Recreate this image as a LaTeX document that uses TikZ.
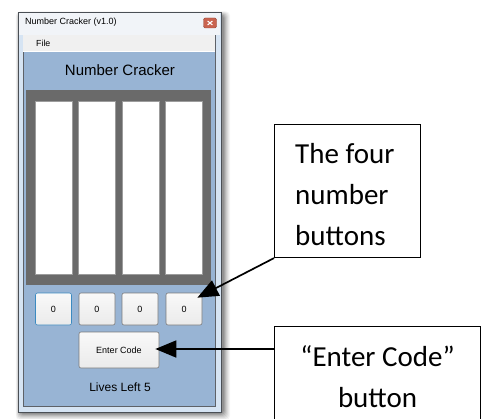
\documentclass[tikz,border=0pt]{standalone}
\usepackage{fontspec}
\setmainfont{Liberation Sans}
\newfontfamily\calloutfont{Carlito}
\usetikzlibrary{arrows.meta,calc}

\definecolor{clientblue}{HTML}{98B4D4}
\definecolor{framedark}{HTML}{4A4F55}
\definecolor{framefill}{HTML}{D6E4F3}
\definecolor{titlefill}{HTML}{F1F4F8}
\definecolor{innerdark}{HTML}{5E6268}
\definecolor{menugray}{HTML}{F0F0F0}
\definecolor{panelgray}{HTML}{6A6A6A}
\definecolor{slotedge}{HTML}{9C9C9C}
\definecolor{btnedge}{HTML}{7A7A7A}
\definecolor{focusedge}{HTML}{3C8AC0}
\definecolor{closered}{HTML}{C9634F}

\tikzset{
  appfont/.style={font=\fontsize{#1}{#1}\selectfont},
  slot/.style={draw=slotedge, line width=0.8pt, fill=white, minimum width=37pt,
    minimum height=173pt, inner sep=0pt},
  winbtn/.style={draw=btnedge, line width=0.6pt, rounded corners=2pt,
    top color=white!95!gray, bottom color=white!84!gray, inner sep=0pt,
    font=\fontsize{9}{9}\selectfont},
  numbtn/.style={winbtn, minimum width=36pt, minimum height=32pt},
  callout/.style={draw=black, line width=1.1pt, fill=white, inner sep=0pt},
  callouttext/.style={inner sep=0pt, font=\calloutfont\fontsize{29}{41}\selectfont},
  pointer/.style={draw=black, line width=1.7pt,
    -{Triangle[length=21pt,width=17pt]}},
}

\begin{document}
\begin{tikzpicture}[x=1pt,y=-1pt]
\useasboundingbox (0,0) rectangle (486,419);
\clip (0,0) rectangle (486,419);

% soft drop shadow behind the window
\foreach \i/\o in {7/0.04,6/0.05,5/0.06,4/0.07,3/0.09,2/0.11,1/0.13}
  \fill[black, opacity=\o, rounded corners=4pt]
    (18-\i*0.6+2, 12-\i*0.5+3) rectangle (221+\i+2, 412+\i+1);

% window frame and title bar
\draw[draw=framedark, fill=framefill, line width=0.8pt] (18,12) rectangle (221,412);
\fill[titlefill] (18.6,12.6) rectangle (220.4,35);
\node[anchor=west, inner sep=0pt, appfont=9] (title) at (25,22) {Number Cracker (v1.0)};
\node[draw=closered!75!black, fill=closered, rounded corners=1.5pt,
  minimum width=13pt, minimum height=10pt, inner sep=0pt] (close) at (210,23) {};
\draw[white, line width=1.1pt] ($(close.center)+(-2.4,-2)$) -- ($(close.center)+(2.4,2)$)
  ($(close.center)+(-2.4,2)$) -- ($(close.center)+(2.4,-2)$);

% client area and menu bar
\draw[draw=innerdark, fill=clientblue, line width=0.8pt] (23,35) rectangle (215,406);
\fill[menugray] (23.4,35.4) rectangle (214.6,51);
\draw[white, line width=0.8pt] (23.4,51) -- (214.6,51);
\node[anchor=west, inner sep=0pt, appfont=8.8] (file) at (36,43) {File};

% heading
\node[inner sep=0pt, appfont=15] (heading) at (120,70) {Number Cracker};

% digit display panel
\node[fill=panelgray, anchor=north west, minimum width=185pt, minimum height=195pt,
  inner sep=0pt] (panel) at (26,90) {};
\node[slot] (s1) at (53.5,187.5) {};
\node[slot] (s2) at (97,187.5) {};
\node[slot] (s3) at (140.5,187.5) {};
\node[slot] (s4) at (184,187.5) {};

% number buttons
\node[numbtn, draw=focusedge] (b1) at (53.5,309) {0};
\node[numbtn] (b2) at (97,309) {0};
\node[numbtn] (b3) at (140,309) {0};
\node[numbtn] (b4) at (184,309) {0};

% enter button and lives counter
\node[winbtn, minimum width=80pt, minimum height=36pt] (enter) at (119,350) {Enter Code};
\node[inner sep=0pt, appfont=12] (lives) at (120,387) {Lives Left 5};

% callout boxes
\node[callout, anchor=north west, minimum width=146pt, minimum height=133pt] (c1) at (274,124) {};
\node[callouttext, anchor=north west, align=left] (t1) at (295,143) {The four\\number\\buttons};

\node[callout, anchor=north west, minimum width=206pt, minimum height=110pt] (c2) at (274,326) {};
\node[callouttext, anchor=north, align=center] (t2) at (c2.north |- 0,345) {“Enter Code”\\button};

% pointers
\coordinate (tip4) at ($(b4.north east)+(-5,5)$);
\coordinate (tipE) at ($(enter.east)+(-4,-1)$);
\draw[pointer] (c1.south west) -- (tip4);
\draw[pointer] (c2.west |- tipE) -- (tipE);
\end{tikzpicture}
\end{document}
